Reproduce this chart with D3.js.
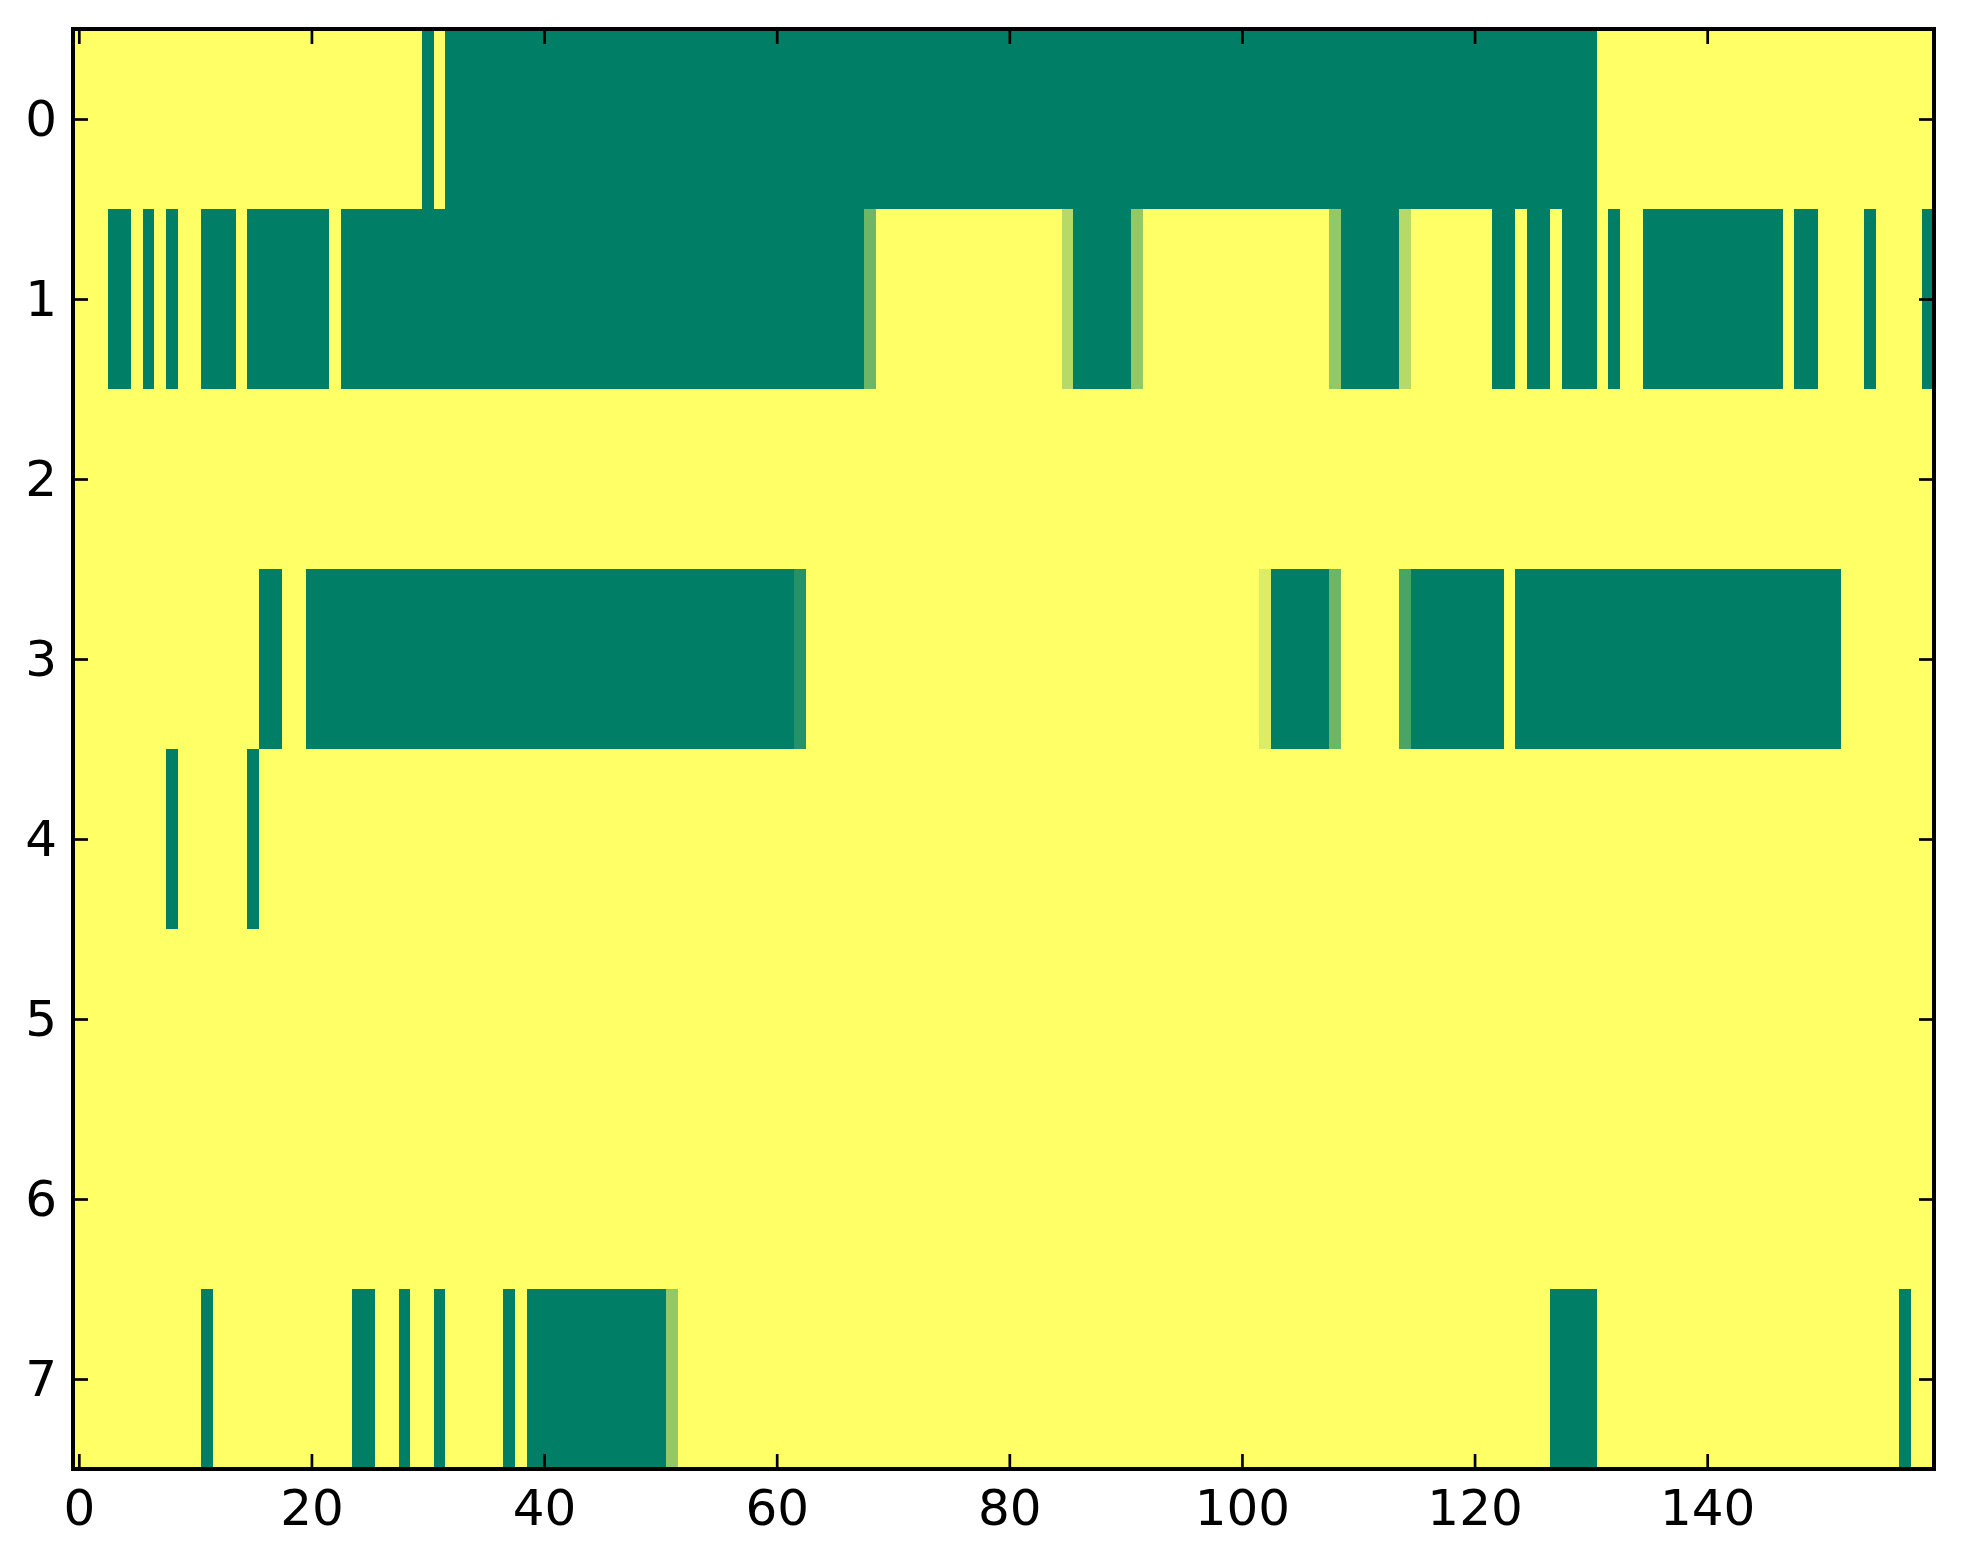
<!DOCTYPE html>
<html>
<head>
<meta charset="utf-8">
<script src="https://cdn.jsdelivr.net/npm/d3@7"></script>
<style>
  body { margin: 0; background: #fff; }
  svg text { font-family: "DejaVu Sans", sans-serif; }
</style>
</head>
<body>
<svg></svg>
<script>
// cell levels out of 7 (0 = yellow, 7 = full green), one array per row, 160 columns
const row0 = [
  0,0,0,0,0,0,0,0,0,0, 0,0,0,0,0,0,0,0,0,0,
  0,0,0,0,0,0,0,0,0,0, 7,0,7,7,7,7,7,7,7,7,
  7,7,7,7,7,7,7,7,7,7, 7,7,7,7,7,7,7,7,7,7,
  7,7,7,7,7,7,7,7,7,7, 7,7,7,7,7,7,7,7,7,7,
  7,7,7,7,7,7,7,7,7,7, 7,7,7,7,7,7,7,7,7,7,
  7,7,7,7,7,7,7,7,7,7, 7,7,7,7,7,7,7,7,7,7,
  7,7,7,7,7,7,7,7,7,7, 7,0,0,0,0,0,0,0,0,0,
  0,0,0,0,0,0,0,0,0,0, 0,0,0,0,0,0,0,0,0,0
];
const row1 = [
  0,0,0,7,7,0,7,0,7,0, 0,7,7,7,0,7,7,7,7,7,
  7,7,0,7,7,7,7,7,7,7, 7,7,7,7,7,7,7,7,7,7,
  7,7,7,7,7,7,7,7,7,7, 7,7,7,7,7,7,7,7,7,7,
  7,7,7,7,7,7,7,7,4,0, 0,0,0,0,0,0,0,0,0,0,
  0,0,0,0,0,2,7,7,7,7, 7,3,0,0,0,0,0,0,0,0,
  0,0,0,0,0,0,0,0,3,7, 7,7,7,7,2,0,0,0,0,0,
  0,0,7,7,0,7,7,0,7,7, 7,0,7,0,0,7,7,7,7,7,
  7,7,7,7,7,7,7,0,7,7, 0,0,0,0,7,0,0,0,0,7
];
const row2 = [
  0,0,0,0,0,0,0,0,0,0, 0,0,0,0,0,0,0,0,0,0,
  0,0,0,0,0,0,0,0,0,0, 0,0,0,0,0,0,0,0,0,0,
  0,0,0,0,0,0,0,0,0,0, 0,0,0,0,0,0,0,0,0,0,
  0,0,0,0,0,0,0,0,0,0, 0,0,0,0,0,0,0,0,0,0,
  0,0,0,0,0,0,0,0,0,0, 0,0,0,0,0,0,0,0,0,0,
  0,0,0,0,0,0,0,0,0,0, 0,0,0,0,0,0,0,0,0,0,
  0,0,0,0,0,0,0,0,0,0, 0,0,0,0,0,0,0,0,0,0,
  0,0,0,0,0,0,0,0,0,0, 0,0,0,0,0,0,0,0,0,0
];
const row3 = [
  0,0,0,0,0,0,0,0,0,0, 0,0,0,0,0,0,7,7,0,0,
  7,7,7,7,7,7,7,7,7,7, 7,7,7,7,7,7,7,7,7,7,
  7,7,7,7,7,7,7,7,7,7, 7,7,7,7,7,7,7,7,7,7,
  7,7,6,0,0,0,0,0,0,0, 0,0,0,0,0,0,0,0,0,0,
  0,0,0,0,0,0,0,0,0,0, 0,0,0,0,0,0,0,0,0,0,
  0,0,1,7,7,7,7,7,4,0, 0,0,0,0,5,7,7,7,7,7,
  7,7,7,0,7,7,7,7,7,7, 7,7,7,7,7,7,7,7,7,7,
  7,7,7,7,7,7,7,7,7,7, 7,7,0,0,0,0,0,0,0,0
];
const row4 = [
  0,0,0,0,0,0,0,0,7,0, 0,0,0,0,0,7,0,0,0,0,
  0,0,0,0,0,0,0,0,0,0, 0,0,0,0,0,0,0,0,0,0,
  0,0,0,0,0,0,0,0,0,0, 0,0,0,0,0,0,0,0,0,0,
  0,0,0,0,0,0,0,0,0,0, 0,0,0,0,0,0,0,0,0,0,
  0,0,0,0,0,0,0,0,0,0, 0,0,0,0,0,0,0,0,0,0,
  0,0,0,0,0,0,0,0,0,0, 0,0,0,0,0,0,0,0,0,0,
  0,0,0,0,0,0,0,0,0,0, 0,0,0,0,0,0,0,0,0,0,
  0,0,0,0,0,0,0,0,0,0, 0,0,0,0,0,0,0,0,0,0
];
const row5 = [
  0,0,0,0,0,0,0,0,0,0, 0,0,0,0,0,0,0,0,0,0,
  0,0,0,0,0,0,0,0,0,0, 0,0,0,0,0,0,0,0,0,0,
  0,0,0,0,0,0,0,0,0,0, 0,0,0,0,0,0,0,0,0,0,
  0,0,0,0,0,0,0,0,0,0, 0,0,0,0,0,0,0,0,0,0,
  0,0,0,0,0,0,0,0,0,0, 0,0,0,0,0,0,0,0,0,0,
  0,0,0,0,0,0,0,0,0,0, 0,0,0,0,0,0,0,0,0,0,
  0,0,0,0,0,0,0,0,0,0, 0,0,0,0,0,0,0,0,0,0,
  0,0,0,0,0,0,0,0,0,0, 0,0,0,0,0,0,0,0,0,0
];
const row6 = [
  0,0,0,0,0,0,0,0,0,0, 0,0,0,0,0,0,0,0,0,0,
  0,0,0,0,0,0,0,0,0,0, 0,0,0,0,0,0,0,0,0,0,
  0,0,0,0,0,0,0,0,0,0, 0,0,0,0,0,0,0,0,0,0,
  0,0,0,0,0,0,0,0,0,0, 0,0,0,0,0,0,0,0,0,0,
  0,0,0,0,0,0,0,0,0,0, 0,0,0,0,0,0,0,0,0,0,
  0,0,0,0,0,0,0,0,0,0, 0,0,0,0,0,0,0,0,0,0,
  0,0,0,0,0,0,0,0,0,0, 0,0,0,0,0,0,0,0,0,0,
  0,0,0,0,0,0,0,0,0,0, 0,0,0,0,0,0,0,0,0,0
];
const row7 = [
  0,0,0,0,0,0,0,0,0,0, 0,7,0,0,0,0,0,0,0,0,
  0,0,0,0,7,7,0,0,7,0, 0,7,0,0,0,0,0,7,0,7,
  7,7,7,7,7,7,7,7,7,7, 7,3,0,0,0,0,0,0,0,0,
  0,0,0,0,0,0,0,0,0,0, 0,0,0,0,0,0,0,0,0,0,
  0,0,0,0,0,0,0,0,0,0, 0,0,0,0,0,0,0,0,0,0,
  0,0,0,0,0,0,0,0,0,0, 0,0,0,0,0,0,0,0,0,0,
  0,0,0,0,0,0,0,7,7,7, 7,0,0,0,0,0,0,0,0,0,
  0,0,0,0,0,0,0,0,0,0, 0,0,0,0,0,0,0,7,0,0
];
const rows = [row0, row1, row2, row3, row4, row5, row6, row7];

const xTicks = [0, 20, 40, 60, 80, 100, 120, 140];
const yTicks = [0, 1, 2, 3, 4, 5, 6, 7];

const width = 1963;
const height = 1564;
const margin = { top: 29, right: 29, bottom: 95, left: 73 };

const svg = d3.select('svg')
    .attr('width', width)
    .attr('height', height);

const nCols = row0.length;
const x = d3.scaleLinear().domain([-0.5, nCols - 0.5]).range([margin.left, width - margin.right]);
const y = d3.scaleLinear().domain([-0.5, rows.length - 0.5]).range([margin.top, height - margin.bottom]);

// summer_r: yellow for 0, green for the max level
const color = d3.scaleLinear().domain([0, 7]).range(['#ffff66', '#007f66']).interpolate(d3.interpolateRgb);

const cells = [];
rows.forEach((r, ri) => r.forEach((v, ci) => cells.push({ r: ri, c: ci, v: v })));

svg.append('g')
    .attr('shape-rendering', 'crispEdges')
    .selectAll('rect')
    .data(cells)
    .enter()
    .append('rect')
    .attr('x', d => x(d.c - 0.5))
    .attr('y', d => y(d.r - 0.5))
    .attr('width', d => x(d.c + 0.5) - x(d.c - 0.5) + 0.5)
    .attr('height', d => y(d.r + 0.5) - y(d.r - 0.5) + 0.5)
    .attr('fill', d => color(d.v));

const x0 = margin.left, x1 = width - margin.right;
const y0 = margin.top, y1 = height - margin.bottom;

const gx = svg.append('g')
    .attr('transform', `translate(0,${y1})`)
    .call(d3.axisBottom(x).tickValues(xTicks).tickSize(-15).tickPadding(20));
const gxt = svg.append('g')
    .attr('transform', `translate(0,${y0})`)
    .call(d3.axisTop(x).tickValues(xTicks).tickSize(-15).tickFormat(''));
const gy = svg.append('g')
    .attr('transform', `translate(${x0},0)`)
    .call(d3.axisLeft(y).tickValues(yTicks).tickSize(-15).tickPadding(16));
const gyr = svg.append('g')
    .attr('transform', `translate(${x1},0)`)
    .call(d3.axisRight(y).tickValues(yTicks).tickSize(-15).tickFormat(''));

[gx, gxt, gy, gyr].forEach(g => {
    g.select('.domain').remove();
    g.selectAll('.tick line').attr('stroke', '#000').attr('stroke-width', 2.7);
    g.selectAll('.tick text').attr('font-size', 50).attr('fill', '#000')
        .style('font-family', '"DejaVu Sans", sans-serif');
});

svg.append('rect')
    .attr('x', x0)
    .attr('y', y0)
    .attr('width', x1 - x0)
    .attr('height', y1 - y0)
    .attr('fill', 'none')
    .attr('stroke', '#000')
    .attr('stroke-width', 4);
</script>
</body>
</html>
